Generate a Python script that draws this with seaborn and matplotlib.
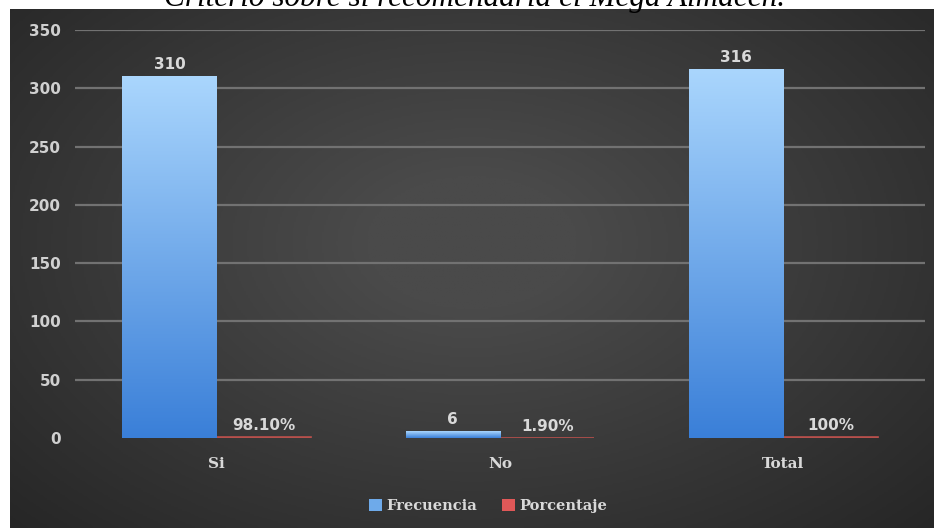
import numpy as np
import pandas as pd
import matplotlib
matplotlib.use("Agg")
import matplotlib.pyplot as plt
from matplotlib.patches import Patch
from matplotlib.colors import LinearSegmentedColormap
import seaborn as sns

# --- data ---
categorias = ["Si", "No", "Total"]
frecuencia = [310, 6, 316]
porcentaje = [0.981, 0.019, 1.0]
series = ["Frecuencia", "Porcentaje"]
yticks = [0, 50, 100, 150, 200, 250, 300, 350]
titulo = "Criterio sobre si recomendaría el Mega Almacén."

df = pd.DataFrame({
    "categoria": categorias * 2,
    "serie": [series[0]] * len(categorias) + [series[1]] * len(categorias),
    "valor": frecuencia + porcentaje,
})

sns.set_theme(style="dark")
plt.rcParams["font.family"] = ["DejaVu Sans"]

W, H = 934, 528
fig = plt.figure(figsize=(W / 100, H / 100), dpi=100, facecolor="white")

# dark panel with a soft radial glow
bg = fig.add_axes([10 / W, 0, (W - 10) / W, 519 / H], zorder=0)
yy, xx = np.mgrid[0:1:300j, 0:1:500j]
r = np.sqrt(((xx - 0.5) / 0.75) ** 2 + ((yy - 0.45) / 0.85) ** 2)
glow = np.clip(1 - r, 0, 1)
bg_cmap = LinearSegmentedColormap.from_list("bg", ["#232323", "#4a4a4a"])
bg.imshow(glow, cmap=bg_cmap, aspect="auto", extent=[0, 1, 0, 1], vmin=0, vmax=0.85)
bg.set_axis_off()

ax = fig.add_axes([75 / W, 90 / H, 850 / W, 408 / H], zorder=1)
ax.patch.set_alpha(0)

red = "#b8504c"
sns.barplot(
    data=df, x="categoria", y="valor", hue="serie", hue_order=series,
    order=categorias, palette=["#5b9bd5", red], width=0.667,
    dodge=True, gap=0, ax=ax, legend=False, errorbar=None, zorder=3,
)

# vertical gradient fill for the frequency bars
blue_cmap = LinearSegmentedColormap.from_list("blue", ["#3a7fd8", "#aad6fd"])
grad = np.linspace(0, 1, 256).reshape(-1, 1)
for bar in ax.containers[0]:
    x0, w, h = bar.get_x(), bar.get_width(), bar.get_height()
    ax.imshow(grad, cmap=blue_cmap, origin="lower", aspect="auto",
              extent=[x0, x0 + w, 0, h], zorder=3)
    bar.set_facecolor("none")
    bar.set_edgecolor("none")

# the percentage bars are only a pixel tall on this scale; outline them
for bar in ax.containers[1]:
    bar.set_edgecolor(red)
    bar.set_linewidth(1.2)

ax.set_xlim(-0.5, len(categorias) - 0.5)
ax.set_ylim(0, 350)

# value labels
label_color = "#d9d9d9"
for bar, v in zip(ax.containers[0], frecuencia):
    ax.annotate(f"{v}", (bar.get_x() + bar.get_width() / 2, bar.get_height()),
                xytext=(0, 3), textcoords="offset points", ha="center", va="bottom",
                color=label_color, fontsize=11, fontweight="bold", zorder=5)
for bar, v in zip(ax.containers[1], porcentaje):
    pct = v * 100
    txt = f"{pct:.0f}%" if abs(pct - round(pct)) < 1e-9 else f"{pct:.2f}%"
    ax.annotate(txt, (bar.get_x() + bar.get_width() / 2, bar.get_height()),
                xytext=(0, 3), textcoords="offset points", ha="center", va="bottom",
                color=label_color, fontsize=11, fontweight="bold", zorder=5)

# axes styling
ax.set_yticks(yticks)
ax.grid(axis="y", color="#727272", linewidth=1.6, zorder=1)
ax.grid(axis="x", visible=False)
ax.set_axisbelow(True)
ax.yaxis.get_gridlines()[0].set_visible(False)
for s in ax.spines.values():
    s.set_visible(False)
ax.tick_params(axis="y", length=0, pad=10, labelcolor="#d0d0d0", labelsize=11)
ax.tick_params(axis="x", length=0, pad=14, labelcolor=label_color, labelsize=11)
for t in ax.get_yticklabels():
    t.set_fontweight("bold")
for t in ax.get_xticklabels():
    t.set_fontfamily("DejaVu Serif")
    t.set_fontweight("bold")
ax.set_xlabel("")
ax.set_ylabel("")

handles = [Patch(facecolor="#6eaaea", edgecolor="none"),
           Patch(facecolor="#e05858", edgecolor="none")]
leg = fig.legend(handles, series, loc="center", bbox_to_anchor=(488 / W, 1 - 506 / H),
                 ncol=2, frameon=False, handlelength=0.9, handleheight=0.9,
                 handletextpad=0.3, columnspacing=1.7,
                 prop={"family": "DejaVu Serif", "size": 10.5, "weight": "bold"})
for t in leg.get_texts():
    t.set_color(label_color)

fig.text(475 / W, 1 - 6 / H, titulo, ha="center", va="baseline",
         family="Liberation Serif", style="italic", fontsize=22.5, color="black")

fig.savefig("out.png", dpi=100, facecolor="white")
